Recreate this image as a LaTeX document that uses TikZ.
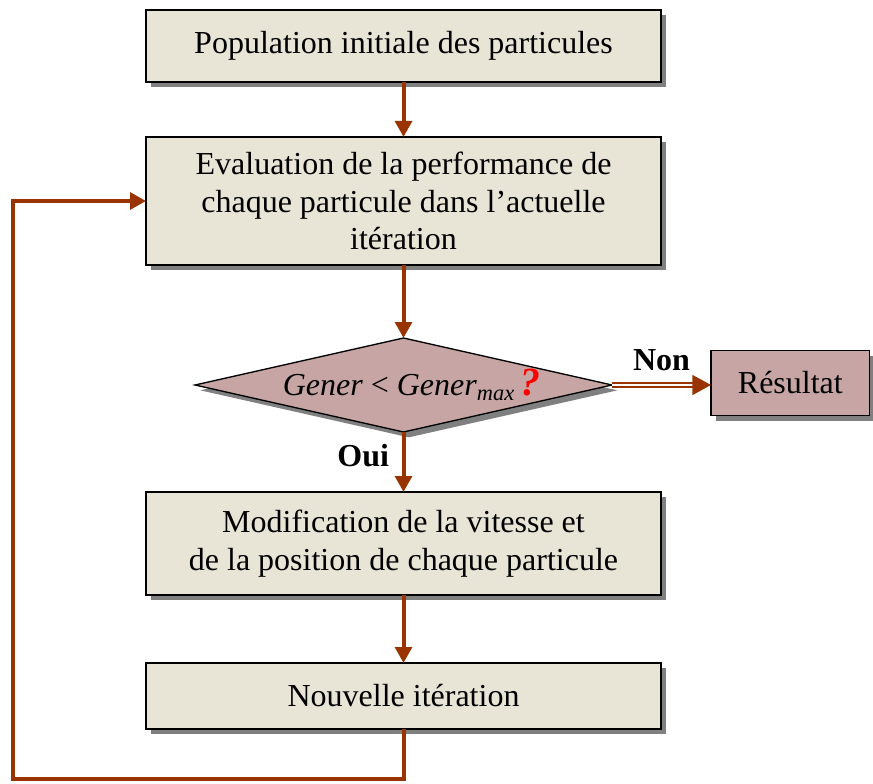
\documentclass[tikz,border=0pt]{standalone}
\usepackage{fontspec}
\setmainfont{Liberation Serif}
\usepackage{tikz}
\usetikzlibrary{positioning, arrows.meta, shapes.geometric, shadows}

\definecolor{boxfill}{HTML}{E8E4D6}
\definecolor{decfill}{HTML}{C6A5A4}
\definecolor{arrowbrown}{HTML}{993300}

\begin{document}
\begin{tikzpicture}[x=0.75pt, y=0.75pt, node distance=41.25pt,
					font=\fontsize{24}{28}\selectfont,
					shade/.style={drop shadow={shadow xshift=4pt, shadow yshift=-4pt, fill=black!50, opacity=1}},
					box/.style={draw=black, line width=1pt, rectangle, fill=boxfill, minimum width=386.25pt, align=center, inner sep=2pt, outer sep=0pt, shade},
					decision/.style={draw=black, line width=1pt, diamond, fill=decfill, aspect=4.44, minimum width=312.75pt, minimum height=70.5pt, inner sep=0pt, outer sep=0pt, shade},
					arrow/.style={-{Triangle[length=12pt, width=12.5pt]}, line width=3pt, draw=arrowbrown},
					twoline/.style={-{Triangle[length=14pt, width=15pt, fill=arrowbrown]}, line width=1.2pt, draw=arrowbrown, double=white, double distance=2.2pt},
					label/.style={font=\fontsize{24}{28}\selectfont\bfseries}
					]
					
					\useasboundingbox (0,0) rectangle (873,783);
					
					% Start
					\node[box, minimum height=54pt] (init) at (403.5,737) {Population initiale des particules};
					
					% Evaluation
					\node[box, minimum height=96pt, below=41.25pt of init] (eval) {Evaluation de la performance de\\chaque particule dans l’actuelle\\itération};
					
					% Test
					\node[decision, below=54.75pt of eval] (test) {\hspace*{12pt}\textit{Gener} < \textit{Gener}\textsubscript{\textit{max}}\,{\color{red}\fontsize{30}{30}\selectfont\bfseries\itshape ?}};
					
					% Result
					\node[box, fill=decfill, minimum width=119pt, minimum height=48.75pt, right=74.25pt of test, yshift=1.5pt] (result) {Résultat};
					
					% Update
					\node[box, minimum height=77.25pt, below=45pt of test] (update) {Modification de la vitesse et\\de la position de chaque particule};
					
					% Next iteration
					\node[box, minimum height=49.5pt, below=51pt of update] (next) {Nouvelle itération};
					
					\coordinate (loop) at (13,4);
					
					% Arrows
					\draw[arrow] (init) -- (eval);
					\draw[arrow] (eval) -- (test);
					\draw[arrow] (test) -- node[label, left, xshift=-6pt, yshift=5pt] {Oui} (update);
					\draw[arrow] (update) -- (next);
					\draw[twoline] (test.east) -- node[label, above, yshift=7pt] {Non} (test.east -| result.west);
					\draw[arrow] (next.south) |- (loop) |- (eval.west);
					
				\end{tikzpicture}
\end{document}
